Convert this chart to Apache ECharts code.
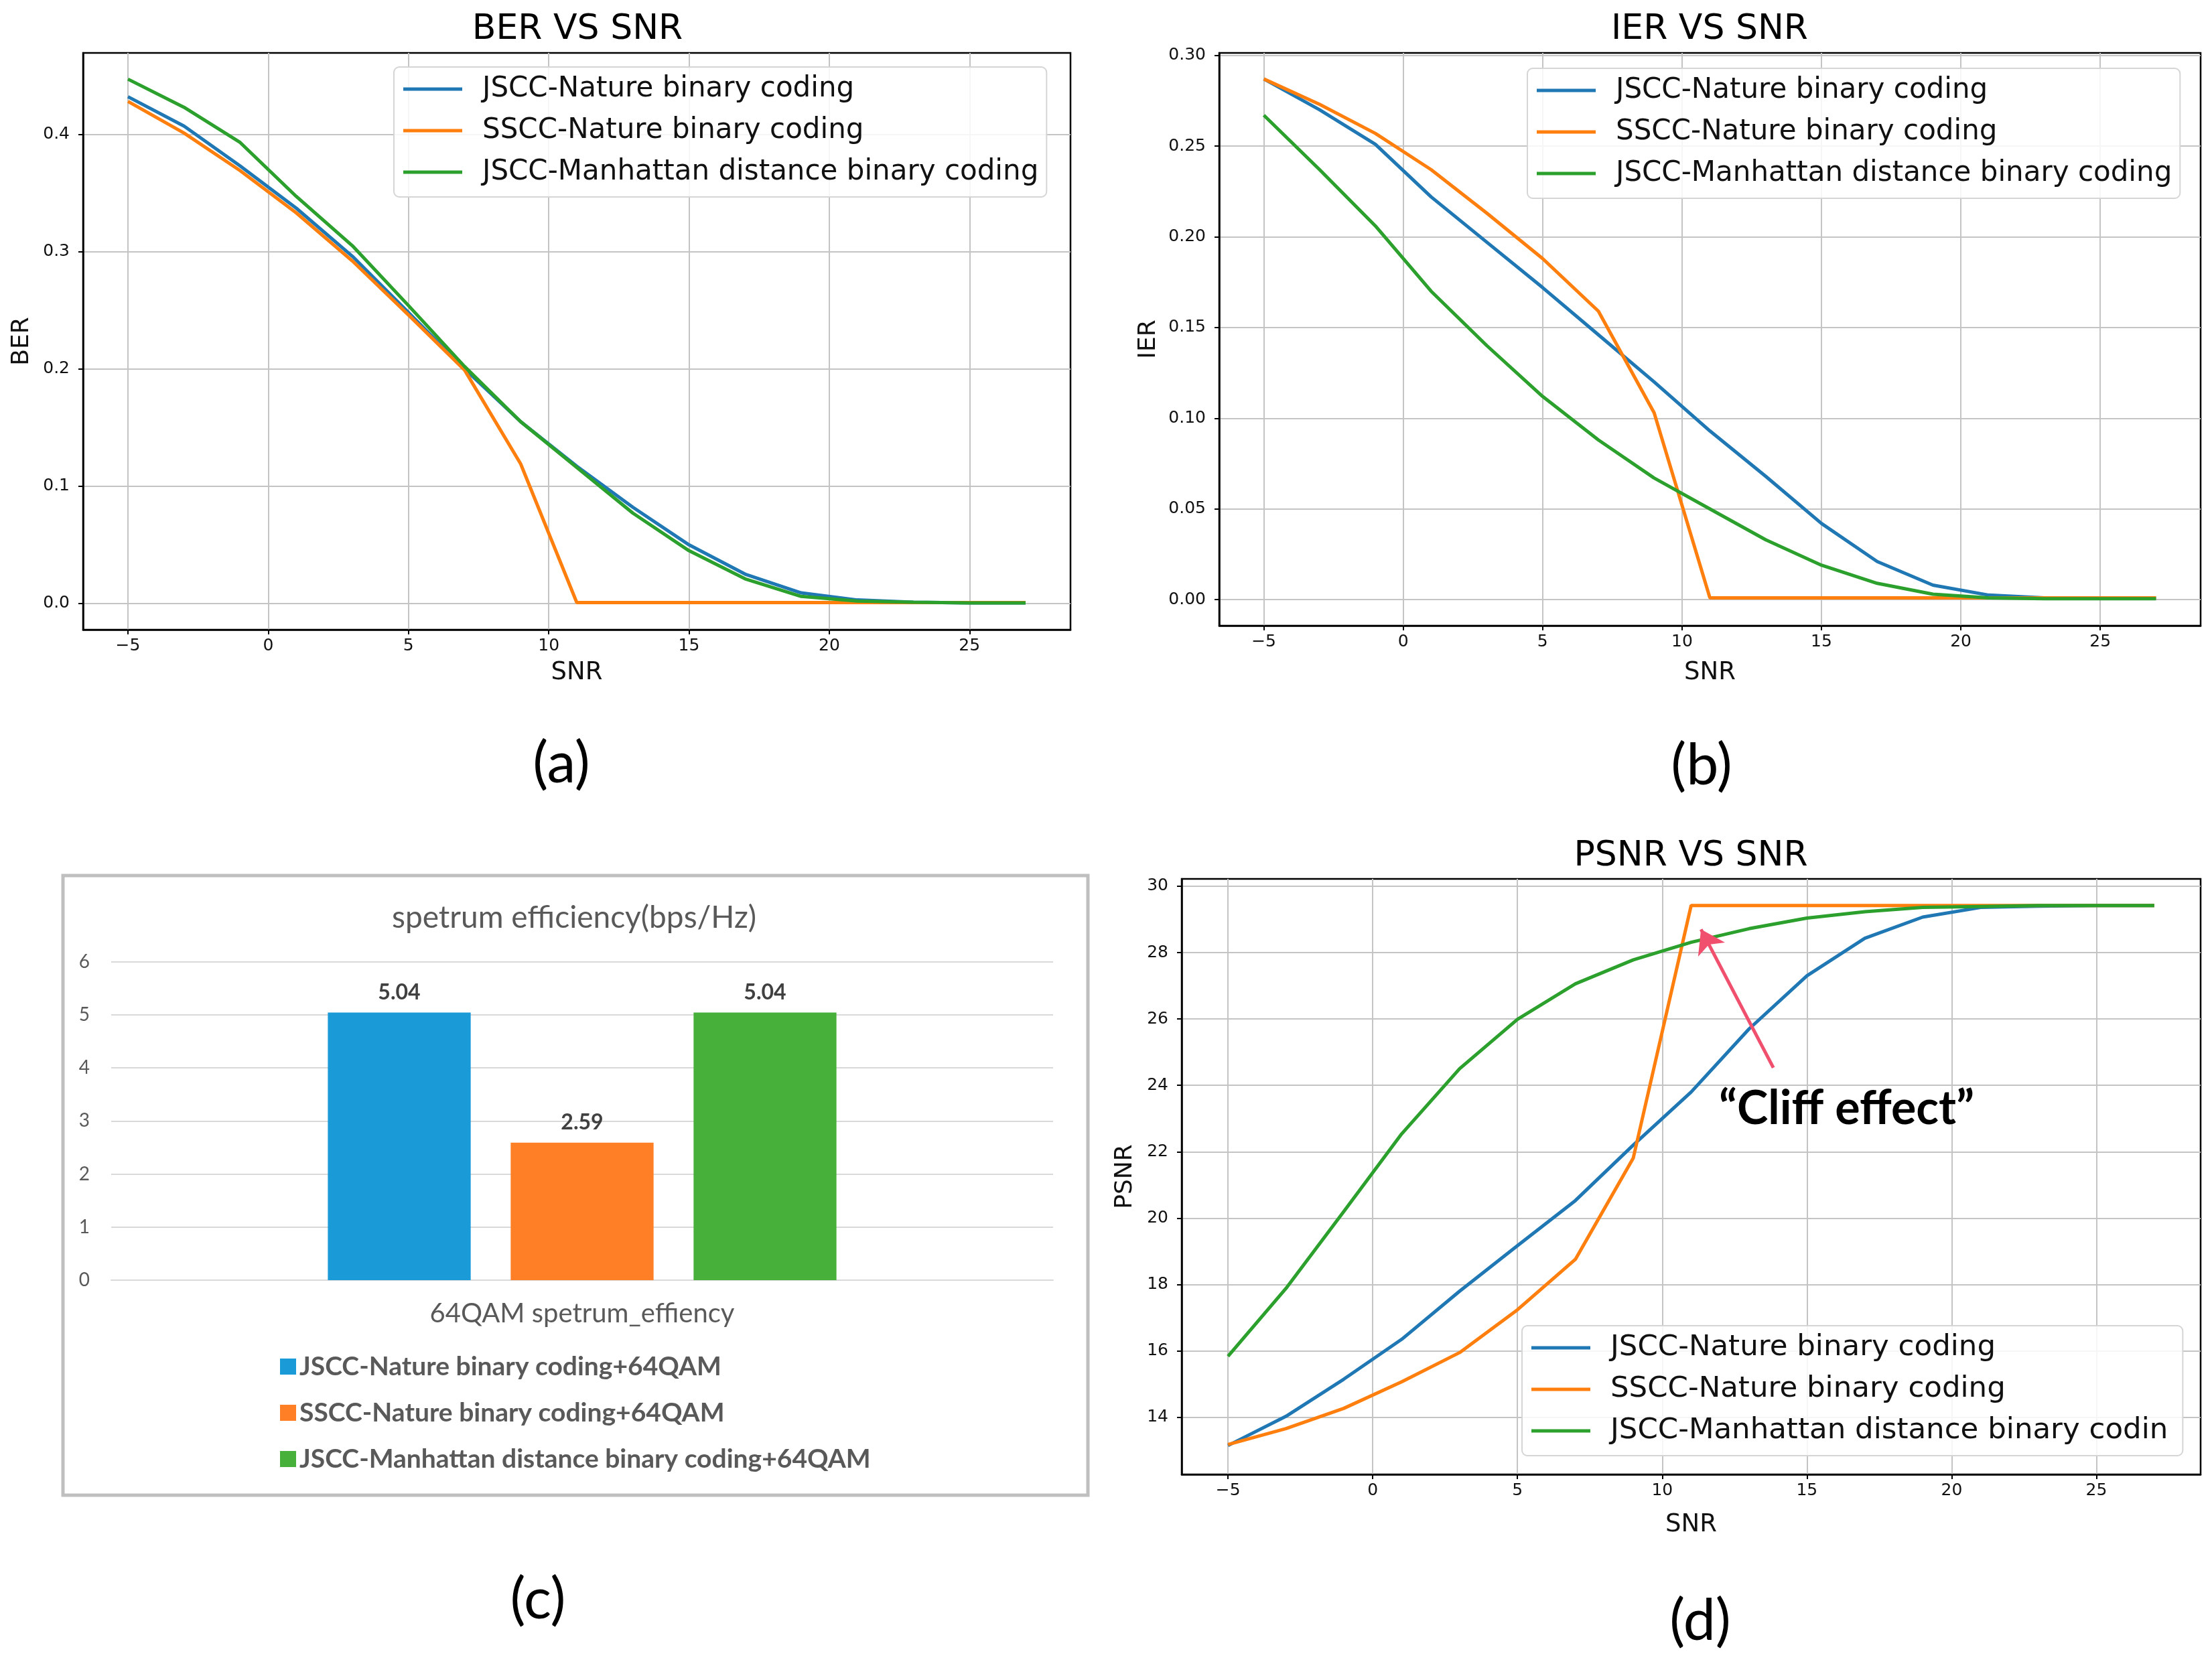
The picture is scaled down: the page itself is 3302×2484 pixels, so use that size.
<!DOCTYPE html>
<html><head><meta charset="utf-8">
<script src="https://cdn.jsdelivr.net/npm/echarts@6/dist/echarts.min.js"></script>
<style>html,body{margin:0;padding:0;background:#fff}#c{width:3302px;height:2484px}</style>
</head><body><div id="c"></div><script>
// ---- data ----
const snr = [-5,-3,-1,1,3,5,7,9,11,13,15,17,19,21,23,25,27];
const lineNames = ['JSCC-Nature binary coding','SSCC-Nature binary coding','JSCC-Manhattan distance binary coding'];
const lineNamesD = ['JSCC-Nature binary coding','SSCC-Nature binary coding','JSCC-Manhattan distance binary codin'];
const berJscc = [0.432,0.407,0.373,0.337,0.296,0.248,0.200,0.155,0.117,0.082,0.050,0.025,0.009,0.003,0.001,0.0005,0.0005];
const berSscc = [0.428,0.401,0.369,0.333,0.292,0.246,0.199,0.119,0.0008,0.0008,0.0008,0.0008,0.0008,0.0008,0.0008,0.0008,0.0008];
const berMan  = [0.447,0.423,0.393,0.347,0.305,0.254,0.202,0.155,0.116,0.077,0.045,0.021,0.006,0.002,0.001,0.0005,0.0005];
const ierJscc = [0.287,0.270,0.251,0.222,0.197,0.172,0.146,0.120,0.093,0.068,0.042,0.021,0.008,0.0025,0.001,0.0008,0.0008];
const ierSscc = [0.287,0.273,0.257,0.237,0.213,0.188,0.159,0.103,0.001,0.001,0.001,0.001,0.001,0.001,0.001,0.001,0.001];
const ierMan  = [0.267,0.237,0.206,0.170,0.140,0.112,0.088,0.067,0.050,0.033,0.019,0.009,0.003,0.001,0.0005,0.0005,0.0005];
const psnrJscc = [13.15,14.03,15.15,16.35,17.8,19.17,20.53,22.2,23.8,25.7,27.3,28.43,29.07,29.36,29.4,29.42,29.42];
const psnrSscc = [13.18,13.66,14.27,15.07,15.95,17.24,18.76,21.81,29.42,29.42,29.42,29.42,29.42,29.42,29.42,29.42,29.42];
const psnrMan  = [15.84,17.88,20.2,22.54,24.5,25.99,27.06,27.78,28.31,28.72,29.04,29.23,29.36,29.39,29.42,29.42,29.42];
const xTicks = [-5,0,5,10,15,20,25];
const berTicks = [0,0.1,0.2,0.3,0.4];
const ierTicks = [0,0.05,0.1,0.15,0.2,0.25,0.3];
const psnrTicks = [14,16,18,20,22,24,26,28,30];
const barCategory = ['64QAM spetrum_effiency'];
const barNames = ['JSCC-Nature binary coding+64QAM','SSCC-Nature binary coding+64QAM','JSCC-Manhattan distance binary coding+64QAM'];
const barValues = [5.04, 2.59, 5.04];
const cliffArrow = [[13.84,24.53],[11.34,28.70]];
const cliffLabel = [16.37,23.28];

const mplColors = ['#1f77b4','#ff7f0e','#2ca02c'];
const barColors = ['#1a9bd7','#ff7f27','#47b03b'];
const DV = 'DejaVu Sans';

function fmtX(v){ return v < 0 ? '\u2212' + Math.abs(v) : String(v); }

function mplGrid(l,t,w,h){ return {left:l, top:t, width:w, height:h, show:true, borderColor:'#000', borderWidth:2.5, backgroundColor:'transparent', outerBoundsMode:'none', containLabel:false}; }
function mplX(gi, gap){
  return {type:'value', gridIndex:gi, min:-6.6, max:28.6,
    axisLine:{show:true, onZero:false, lineStyle:{color:'#000', width:2.5}},
    axisTick:{show:true, customValues:xTicks, length:7, lineStyle:{color:'#000', width:2}},
    axisLabel:{customValues:xTicks, formatter:fmtX, fontSize:25, color:'#111', fontFamily:DV, margin:12},
    splitLine:{show:true, lineStyle:{color:'#c4c4c4', width:2}},
    name:'SNR', nameLocation:'middle', nameGap:gap, nameTextStyle:{fontSize:37, fontFamily:DV, color:'#111'}};
}
function mplY(gi, min, max, ticks, dec, name, gap){
  return {type:'value', gridIndex:gi, min:min, max:max,
    axisLine:{show:true, onZero:false, lineStyle:{color:'#000', width:2.5}},
    axisTick:{show:true, customValues:ticks, length:7, lineStyle:{color:'#000', width:2}},
    axisLabel:{customValues:ticks, formatter:v=>v.toFixed(dec), fontSize:25, color:'#111', fontFamily:DV, margin:20},
    splitLine:{show:true, lineStyle:{color:'#c4c4c4', width:2}},
    name:name, nameLocation:'middle', nameGap:gap, nameTextStyle:{fontSize:36, fontFamily:DV, color:'#111'}};
}
function lineSeries(name, gi, vals, ci, extra){
  return Object.assign({type:'line', name:name, xAxisIndex:gi, yAxisIndex:gi, showSymbol:false, symbol:'none',
    data: snr.map((x,i)=>[x, vals[i]]), lineStyle:{width:5, color:mplColors[ci]}, itemStyle:{color:mplColors[ci]}, z:3, animation:false}, extra||{});
}
function mplLegend(l,t,names,fs,padR){
  return {orient:'vertical', left:l, top:t, data:names, icon:'rect', itemWidth:88, itemHeight:5, itemGap:12,
    padding:[8,padR,12,14], backgroundColor:'rgba(255,255,255,0.85)', borderColor:'#d5d5d5', borderWidth:2, borderRadius:8,
    selectedMode:false, textStyle:{fontSize:fs, fontFamily:DV, color:'#111', lineHeight:50, padding:[0,0,0,25]}};
}
function titleAt(text, x, y){
  return {text:text, left:x, top:y, textAlign:'center', textVerticalAlign:'middle', padding:0,
    textStyle:{fontSize:52, fontFamily:DV, fontWeight:'normal', color:'#000'}};
}
function subLabel(t, x, y){
  return {type:'text', silent:true, style:{text:t, x:x, y:y, align:'center', verticalAlign:'middle', fontSize:86, fontFamily:'Lato', fill:'#000'}};
}

const option = {
  animation:false,
  backgroundColor:'#fff',
  title:[
    titleAt('BER VS SNR', 862, 44),
    titleAt('IER VS SNR', 2552, 44),
    titleAt('PSNR VS SNR', 2524, 1278),
    {text:'spetrum efficiency(bps/Hz)', left:857, top:1370, textAlign:'center', textVerticalAlign:'middle', padding:0,
      textStyle:{fontSize:46, fontFamily:'Lato', fontWeight:'normal', color:'#595959'}}
  ],
  grid:[
    mplGrid(124,79,1474,861),
    mplGrid(1820,79,1465,855),
    mplGrid(1764,1312,1521,889),
    {left:166, top:1435.5, width:1406, height:475.5, show:false, outerBoundsMode:'none', containLabel:false}
  ],
  xAxis:[
    mplX(0,46), mplX(1,52), mplX(2,57),
    {type:'category', gridIndex:3, data:barCategory,
      axisLine:{show:true, lineStyle:{color:'#d9d9d9', width:2}}, axisTick:{show:false},
      axisLabel:{fontSize:40, fontFamily:'Lato', color:'#595959', margin:30}}
  ],
  yAxis:[
    mplY(0,-0.02235,0.46935,berTicks,1,'BER',73),
    mplY(1,-0.01435,0.30135,ierTicks,2,'IER',87),
    mplY(2,12.28,30.22,psnrTicks,0,'PSNR',66),
    {type:'value', gridIndex:3, min:0, max:6, interval:1,
      axisLine:{show:false}, axisTick:{show:false},
      axisLabel:{fontSize:28, fontFamily:'Lato', color:'#595959', margin:32},
      splitLine:{show:true, lineStyle:{color:'#d9d9d9', width:2}}}
  ],
  legend:[
    mplLegend(588,100,lineNames,42,12),
    mplLegend(2280,102,lineNames,42,12),
    mplLegend(2272,1979,lineNamesD,43.5,22),
    {orient:'vertical', left:418, top:2017, data:barNames, icon:'rect', itemWidth:24, itemHeight:24, itemGap:23, padding:0,
      selectedMode:false, textStyle:{fontSize:39, fontWeight:'bold', fontFamily:'Lato', color:'#595959', lineHeight:46}}
  ],
  series:[
    lineSeries(lineNames[0],0,berJscc,0), lineSeries(lineNames[1],0,berSscc,1), lineSeries(lineNames[2],0,berMan,2),
    lineSeries(lineNames[0],1,ierJscc,0), lineSeries(lineNames[1],1,ierSscc,1), lineSeries(lineNames[2],1,ierMan,2),
    lineSeries(lineNamesD[0],2,psnrJscc,0), lineSeries(lineNamesD[1],2,psnrSscc,1),
    lineSeries(lineNamesD[2],2,psnrMan,2,{
      markLine:{silent:true, symbol:['none','arrow'], symbolSize:34, animation:false,
        lineStyle:{color:'#f0506e', width:5, type:'solid'}, itemStyle:{color:'#f0506e'}, label:{show:false}, emphasis:{disabled:true},
        data:[[{coord:cliffArrow[0]},{coord:cliffArrow[1]}]]},
      markPoint:{silent:true, symbol:'circle', symbolSize:0, animation:false,
        label:{show:true, position:'inside', formatter:'\u201CCliff effect\u201D', fontSize:70, fontWeight:'bold', fontFamily:'Lato', color:'#000'},
        data:[{coord:cliffLabel}]}
    })
  ].concat(barNames.map((n,i)=>({
    type:'bar', name:n, xAxisIndex:3, yAxisIndex:3, data:[barValues[i]],
    barCategoryGap:'46%', barGap:'28%', itemStyle:{color:barColors[i]},
    label:{show:true, position:'top', distance:14, fontSize:32, fontWeight:'bold', fontFamily:'Lato', color:'#404040', formatter:p=>p.value.toFixed(2)}
  }))),
  graphic:[
    {type:'rect', silent:true, z:-1, shape:{x:94, y:1307, width:1530, height:925}, style:{fill:'none', stroke:'#bfbfbf', lineWidth:5}},
    subLabel('(a)', 838, 1140),
    subLabel('(b)', 2540, 1143),
    subLabel('(c)', 803, 2388),
    subLabel('(d)', 2538, 2420)
  ]
};
const chart = echarts.init(document.getElementById('c'), null, {renderer:'canvas'});
chart.setOption(option);
</script></body></html>
